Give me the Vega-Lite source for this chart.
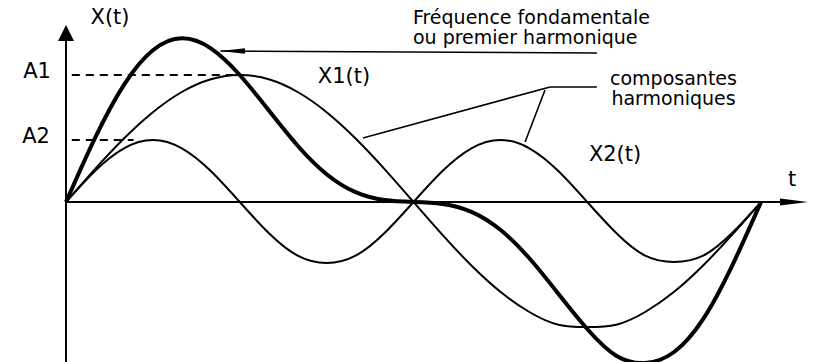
{
  "$schema": "https://vega.github.io/schema/vega-lite/v6.json",
  "width": 831,
  "height": 362,
  "padding": 0,
  "autosize": {"type": "none"},
  "background": "white",
  "config": {"view": {"stroke": null}, "text": {"font": "DejaVu Sans", "color": "black"}},
  "datasets": {
    "curves": [
      {"t": 0, "v": 0, "s": "X"}, {"t": 15, "v": 63.9, "s": "X"}, {"t": 30, "v": 117.2, "s": "X"}, {"t": 45, "v": 151.8, "s": "X"},
      {"t": 60, "v": 163.7, "s": "X"}, {"t": 75, "v": 153.7, "s": "X"}, {"t": 90, "v": 127, "s": "X"}, {"t": 105, "v": 91.7, "s": "X"},
      {"t": 120, "v": 56.3, "s": "X"}, {"t": 135, "v": 27.8, "s": "X"}, {"t": 150, "v": 9.8, "s": "X"}, {"t": 165, "v": 1.9, "s": "X"},
      {"t": 180, "v": 0, "s": "X"}, {"t": 195, "v": -1.9, "s": "X"}, {"t": 210, "v": -9.8, "s": "X"}, {"t": 225, "v": -27.8, "s": "X"},
      {"t": 240, "v": -56.3, "s": "X"}, {"t": 255, "v": -91.7, "s": "X"}, {"t": 270, "v": -127, "s": "X"}, {"t": 285, "v": -153.7, "s": "X"},
      {"t": 300, "v": -161, "s": "X"}, {"t": 315, "v": -150, "s": "X"}, {"t": 330, "v": -117.2, "s": "X"}, {"t": 345, "v": -63.9, "s": "X"},
      {"t": 360, "v": 0, "s": "X"},
      {"t": 0, "v": 0, "s": "X1"}, {"t": 15, "v": 32.9, "s": "X1"}, {"t": 30, "v": 63.5, "s": "X1"}, {"t": 45, "v": 89.8, "s": "X1"},
      {"t": 60, "v": 110, "s": "X1"}, {"t": 75, "v": 122.7, "s": "X1"}, {"t": 90, "v": 127, "s": "X1"}, {"t": 105, "v": 122.7, "s": "X1"},
      {"t": 120, "v": 110, "s": "X1"}, {"t": 135, "v": 89.8, "s": "X1"}, {"t": 150, "v": 63.5, "s": "X1"}, {"t": 165, "v": 32.9, "s": "X1"},
      {"t": 180, "v": 0, "s": "X1"}, {"t": 195, "v": -32.9, "s": "X1"}, {"t": 210, "v": -63.5, "s": "X1"}, {"t": 225, "v": -89.8, "s": "X1"},
      {"t": 240, "v": -110, "s": "X1"}, {"t": 255, "v": -122.7, "s": "X1"}, {"t": 270, "v": -125, "s": "X1"}, {"t": 285, "v": -122.7, "s": "X1"},
      {"t": 300, "v": -110, "s": "X1"}, {"t": 315, "v": -89.8, "s": "X1"}, {"t": 330, "v": -63.5, "s": "X1"}, {"t": 345, "v": -32.9, "s": "X1"},
      {"t": 360, "v": 0, "s": "X1"},
      {"t": 0, "v": 0, "s": "X2"}, {"t": 15, "v": 31, "s": "X2"}, {"t": 30, "v": 53.7, "s": "X2"}, {"t": 45, "v": 62, "s": "X2"},
      {"t": 60, "v": 53.7, "s": "X2"}, {"t": 75, "v": 31, "s": "X2"}, {"t": 90, "v": 0, "s": "X2"}, {"t": 105, "v": -31, "s": "X2"},
      {"t": 120, "v": -53.7, "s": "X2"}, {"t": 135, "v": -61, "s": "X2"}, {"t": 150, "v": -53.7, "s": "X2"}, {"t": 165, "v": -31, "s": "X2"},
      {"t": 180, "v": 0, "s": "X2"}, {"t": 195, "v": 31, "s": "X2"}, {"t": 210, "v": 53.7, "s": "X2"}, {"t": 225, "v": 62, "s": "X2"},
      {"t": 240, "v": 53.7, "s": "X2"}, {"t": 255, "v": 31, "s": "X2"}, {"t": 270, "v": 0, "s": "X2"}, {"t": 285, "v": -31, "s": "X2"},
      {"t": 300, "v": -53.7, "s": "X2"}, {"t": 315, "v": -60, "s": "X2"}, {"t": 330, "v": -53.7, "s": "X2"}, {"t": 345, "v": -31, "s": "X2"},
      {"t": 360, "v": 0, "s": "X2"}
    ],
    "axes": [
      {"x": 0, "y": -160, "x2": 0, "y2": 170},
      {"x": 0, "y": 0, "x2": 380, "y2": 0}
    ],
    "dashes": [
      {"x": 3, "y": 127, "x2": 87, "y2": 127},
      {"x": 3, "y": 62, "x2": 35, "y2": 62}
    ],
    "pointers": [
      {"x": 80, "y": 151, "x2": 275, "y2": 149},
      {"x": 153.8, "y": 64, "x2": 250.7, "y2": 115},
      {"x": 250.7, "y": 115, "x2": 275, "y2": 115},
      {"x": 248.1, "y": 112, "x2": 237.8, "y2": 60}
    ],
    "heads": [
      {"x": 0, "y": 167, "k": "up"},
      {"x": 377.1, "y": 0, "k": "right"},
      {"x": 86.2, "y": 151, "k": "left"}
    ],
    "labels": [
      {"x": 22.8, "y": 184, "text": "X(t)", "g": "a"},
      {"x": -15.0, "y": 130, "text": "A1", "g": "a"},
      {"x": -15.5, "y": 65, "text": "A2", "g": "a"},
      {"x": 144.0, "y": 125, "text": "X1(t)", "g": "a"},
      {"x": 284.4, "y": 47, "text": "X2(t)", "g": "a"},
      {"x": 376.1, "y": 22, "text": "t", "g": "a"},
      {"x": 179.7, "y": 184, "text": "Fréquence fondamentale", "g": "b"},
      {"x": 179.7, "y": 164, "text": "ou premier harmonique", "g": "b"},
      {"x": 281.8, "y": 123, "text": "composantes", "g": "b"},
      {"x": 282.5, "y": 103, "text": "harmoniques", "g": "b"}
    ]
  },
  "encoding": {
    "x": {"field": "x", "type": "quantitative", "scale": {"domain": [-34.19, 396.25], "nice": false, "zero": false}, "axis": null},
    "y": {"field": "y", "type": "quantitative", "scale": {"domain": [-160, 202], "nice": false, "zero": false}, "axis": null}
  },
  "layer": [
    {
      "data": {"name": "axes"},
      "mark": {"type": "rule", "color": "black", "strokeWidth": 2},
      "encoding": {"x2": {"field": "x2"}, "y2": {"field": "y2"}}
    },
    {
      "data": {"name": "dashes"},
      "mark": {"type": "rule", "color": "black", "strokeWidth": 1.8, "strokeDash": [8, 6]},
      "encoding": {"x2": {"field": "x2"}, "y2": {"field": "y2"}}
    },
    {
      "data": {"name": "pointers"},
      "mark": {"type": "rule", "color": "black", "strokeWidth": 1.6},
      "encoding": {"x2": {"field": "x2"}, "y2": {"field": "y2"}}
    },
    {
      "data": {"name": "curves"},
      "transform": [{"filter": "datum.s !== 'X'"}],
      "mark": {"type": "line", "interpolate": "natural", "color": "black", "strokeWidth": 2},
      "encoding": {
        "x": {"field": "t", "type": "quantitative"},
        "y": {"field": "v", "type": "quantitative"},
        "detail": {"field": "s", "type": "nominal"}
      }
    },
    {
      "data": {"name": "curves"},
      "transform": [{"filter": "datum.s === 'X'"}],
      "mark": {"type": "line", "interpolate": "natural", "color": "black", "strokeWidth": 4},
      "encoding": {
        "x": {"field": "t", "type": "quantitative"},
        "y": {"field": "v", "type": "quantitative"}
      }
    },
    {
      "data": {"name": "heads"},
      "transform": [{"filter": "datum.k === 'up'"}],
      "mark": {"type": "point", "shape": "M0,-1L0.8,0.6L-0.8,0.6Z", "size": 400, "filled": true, "color": "black", "opacity": 1}
    },
    {
      "data": {"name": "heads"},
      "transform": [{"filter": "datum.k === 'right'"}],
      "mark": {"type": "point", "shape": "M1,0L-1,-0.25L-1,0.25Z", "size": 784, "filled": true, "color": "black", "opacity": 1}
    },
    {
      "data": {"name": "heads"},
      "transform": [{"filter": "datum.k === 'left'"}],
      "mark": {"type": "point", "shape": "M-1,0L1,-0.22L1,0.22Z", "size": 625, "filled": true, "color": "black", "opacity": 1}
    },
    {
      "data": {"name": "labels"},
      "transform": [{"filter": "datum.g === 'a'"}],
      "mark": {"type": "text", "fontSize": 21, "align": "center", "baseline": "middle"},
      "encoding": {"text": {"field": "text"}}
    },
    {
      "data": {"name": "labels"},
      "transform": [{"filter": "datum.g === 'b'"}],
      "mark": {"type": "text", "fontSize": 19, "fontWeight": 500, "align": "left", "baseline": "middle"},
      "encoding": {"text": {"field": "text"}}
    }
  ]
}
